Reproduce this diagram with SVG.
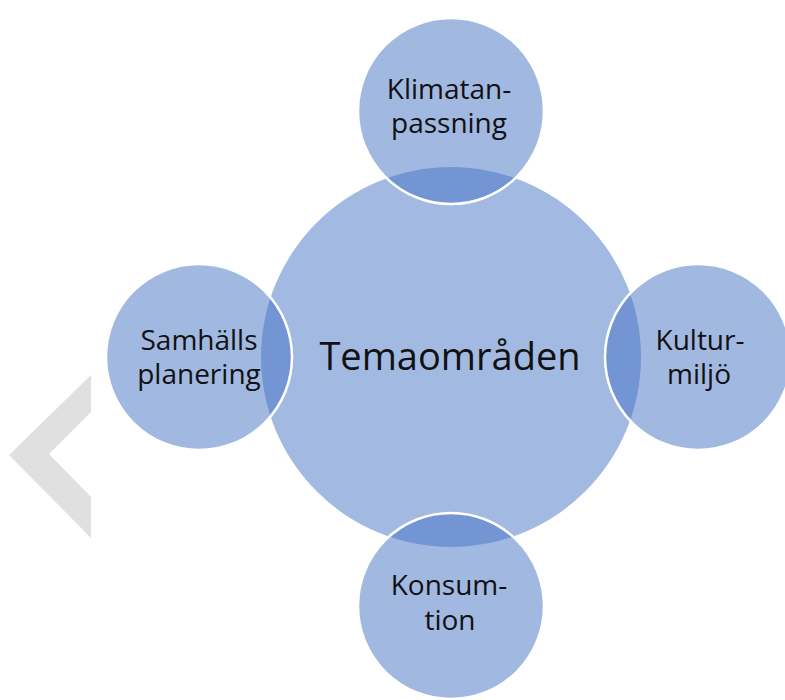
<svg xmlns="http://www.w3.org/2000/svg" width="785" height="700" viewBox="0 0 785 700">
<style>
.center{fill:#A2B9E2;}
.sat{fill:#4472C4;fill-opacity:0.5;stroke:#FFFFFF;stroke-width:2.5;}
.lbl{font-family:"Open Sans","Liberation Sans",sans-serif;fill:#111111;text-anchor:middle;}
.s{font-size:28px;}
.c{font-size:38px;}
</style>
<rect width="785" height="700" fill="#FFFFFF"/>
<polygon points="91,375 9,455 91,538 91,497 49,454 91,412" fill="#E0E0E0"/>
<g id="connectors"></g>
<g id="node-center">
<circle class="center" cx="451" cy="357" r="190"/>
<text class="lbl c" x="450" y="370">Temaområden</text>
</g>
<g id="node-top">
<circle class="sat" cx="451" cy="111" r="93"/>
<text class="lbl s" x="449" y="99">Klimatan-</text>
<text class="lbl s" x="449" y="133">passning</text>
</g>
<g id="node-left">
<circle class="sat" cx="199" cy="357" r="93"/>
<text class="lbl s" x="199" y="350">Samhälls</text>
<text class="lbl s" x="199" y="384">planering</text>
</g>
<g id="node-right">
<circle class="sat" cx="698" cy="357" r="93"/>
<text class="lbl s" x="700" y="350">Kultur-</text>
<text class="lbl s" x="699" y="384">miljö</text>
</g>
<g id="node-bottom">
<circle class="sat" cx="451" cy="606" r="93"/>
<text class="lbl s" x="449" y="595">Konsum-</text>
<text class="lbl s" x="450" y="630">tion</text>
</g>
</svg>
